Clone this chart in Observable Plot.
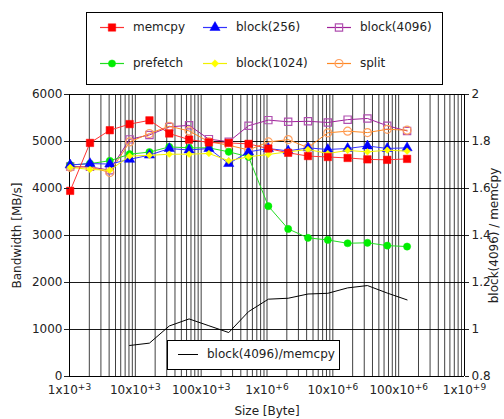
<!DOCTYPE html>
<html><head><meta charset="utf-8">
<script src="https://cdn.jsdelivr.net/npm/d3@7"></script>
<script src="https://cdn.jsdelivr.net/npm/@observablehq/plot@0.6"></script>
<style>body{margin:0;background:#fff}</style>
</head><body><div id="chart"></div>
<script>
// ---- data ----
const sizes = [1024, 2048, 4096, 8192, 16384, 32768, 65536, 131072, 262144, 524288,
  1048576, 2097152, 4194304, 8388608, 16777216, 33554432, 67108864, 134217728];
const memcpy    = [3950, 4970, 5240, 5370, 5450, 5170, 5040, 4980, 4970, 4950, 4850, 4760, 4690, 4670, 4650, 4620, 4610, 4630];
const block256  = [4500, 4530, 4520, 4620, 4710, 4850, 4820, 4850, 4530, 4780, 4850, 4800, 4865, 4830, 4852, 4905, 4852, 4865];
const block4096 = [4470, 4460, 4390, 5045, 5140, 5310, 5345, 5050, 4995, 5335, 5455, 5420, 5430, 5405, 5465, 5490, 5335, 5225];
const prefetch  = [4500, 4530, 4590, 4730, 4775, 4885, 4865, 4865, 4780, 4675, 3625, 3140, 2950, 2905, 2835, 2845, 2785, 2765];
const block1024 = [4450, 4405, 4390, 4690, 4705, 4730, 4730, 4745, 4590, 4675, 4725, 4780, 4830, 4745, 4810, 4780, 4815, 4795];
const split     = [4450, 4460, 4340, 4990, 5170, 5325, 5225, 4995, 4920, 4820, 4990, 5040, 4870, 5185, 5220, 5190, 5260, 5240];
const ratioSizes = [8192, 16384, 32768, 65536, 131072, 262144, 524288, 1048576, 2097152, 4194304, 8388608, 16777216, 33554432, 67108864, 134217728];
const ratio = [0.932, 0.942, 1.015, 1.045, 1.016, 0.987, 1.076, 1.129, 1.133, 1.151, 1.154, 1.177, 1.187, 1.155, 1.126];

const yTicks = [0, 1000, 2000, 3000, 4000, 5000, 6000];
const ratioTickLabels = ["0.8", "1", "1.2", "1.4", "1.6", "1.8", "2"];
const xMajor = [1e3, 1e4, 1e5, 1e6, 1e7, 1e8, 1e9];
const xTickLabels = ["1x10+3", "10x10+3", "100x10+3", "1x10+6", "10x10+6", "100x10+6", "1x10+9"];

// ---- styles ----
const series = [
  {name: "block(4096)", values: block4096, line: "#a0209a", mark: "#b050b0", symbol: "square", open: true, r: 4.1},
  {name: "split",       values: split,     line: "#ff8822", mark: "#ffa060", symbol: "circle", open: true, r: 4},
  {name: "prefetch",    values: prefetch,  line: "#22dd22", mark: "#00ee00", symbol: "circle", open: false, r: 3.6},
  {name: "block(256)",  values: block256,  line: "#3333ff", mark: "#0000ff", symbol: "triangle", open: false, r: 3.8},
  {name: "block(1024)", values: block1024, line: "#f0f000", mark: "#ffff00", symbol: "diamond2", open: false, r: 3},
  {name: "memcpy",      values: memcpy,    line: "#ff3333", mark: "#ff0000", symbol: "square", open: false, r: 4.2}
];

const minorX = [];
for (let e = 3; e <= 8; e++) for (let m = 1; m <= 9; m++) minorX.push(m * Math.pow(10, e));
minorX.push(1e9);

const ratioRows = ratio.map((r, i) => ({x: ratioSizes[i], y: (r - 0.8) * 5000}));

const marks = [
  Plot.gridX(minorX, {stroke: "#000", strokeOpacity: 0.75, strokeWidth: 1}),
  Plot.gridY(yTicks, {stroke: "#000", strokeOpacity: 0.9, strokeWidth: 1}),
  Plot.ruleX([1e3, 1e9], {stroke: "#000"}),
  Plot.ruleY([0, 6000], {stroke: "#000"}),
  Plot.line(ratioRows, {x: "x", y: "y", stroke: "#000", strokeWidth: 1})
];
for (const s of series) {
  const rows = s.values.map((v, i) => ({x: sizes[i], y: v}));
  marks.push(Plot.line(rows, {x: "x", y: "y", stroke: s.line, strokeWidth: 1}));
  marks.push(Plot.dot(rows, {x: "x", y: "y", symbol: () => s.symbol, r: s.r,
    fill: s.open ? "none" : s.mark, stroke: s.mark, strokeWidth: s.open ? 1.2 : 0.5}));
}
marks.push(
  Plot.axisY({anchor: "left", ticks: yTicks, tickSize: 5, tickPadding: 2, tickFormat: d => String(d),
    label: "Bandwidth [MB/s]", labelAnchor: "center", labelOffset: 57, labelArrow: "none"}),
  Plot.axisY({anchor: "right", ticks: yTicks, tickSize: 4, tickPadding: 3,
    tickFormat: d => ratioTickLabels[yTicks.indexOf(d)],
    label: "block(4096) / memcpy", labelAnchor: "center", labelOffset: 33, labelArrow: "none"}),
  Plot.axisX({ticks: xMajor, tickSize: 0, tickPadding: 9,
    tickFormat: d => xTickLabels[xMajor.findIndex(v => Math.abs(v - d) / v < 1e-6)],
    label: "Size [Byte]", labelAnchor: "center", labelOffset: 38, labelArrow: "none"})
);

const plot = Plot.plot({
  width: 504, height: 419,
  marginLeft: 69, marginRight: 40, marginTop: 94, marginBottom: 43,
  style: {fontFamily: "DejaVu Sans, sans-serif", fontSize: "12px", color: "#222", background: "#fff"},
  x: {type: "log", domain: [1e3, 1e9]},
  y: {domain: [0, 6000]},
  marks
});
document.getElementById("chart").appendChild(plot);

// superscript exponents on x tick labels
const svg = d3.select(plot);
svg.selectAll('g[aria-label="x-axis tick label"] text').each(function() {
  const t = d3.select(this);
  const s = t.text();
  const k = s.indexOf("+");
  if (k < 0) return;
  t.text(null);
  t.append("tspan").text(s.slice(0, k));
  t.append("tspan").attr("dy", "-0.45em").attr("font-size", "9px").text(s.slice(k));
});

// legends
function drawSymbol(g, s, x, y) {
  const size = s.r * s.r * Math.PI;
  const sym = {square: d3.symbolSquare, circle: d3.symbolCircle, triangle: d3.symbolTriangle, diamond2: d3.symbolSquare}[s.symbol];
  g.append("path").attr("d", d3.symbol(sym, size)())
    .attr("transform", `translate(${x},${y})` + (s.symbol === "diamond2" ? " rotate(45)" : ""))
    .attr("fill", s.open ? "none" : s.mark).attr("stroke", s.mark).attr("stroke-width", s.open ? 1.2 : 0.5);
}
const leg = svg.append("g").attr("font-family", "DejaVu Sans, sans-serif").attr("font-size", 12)
  .attr("fill", "#222").attr("text-anchor", "start");
leg.append("rect").attr("x", 86.5).attr("y", 12.5).attr("width", 356).attr("height", 72)
  .attr("fill", "#fff").attr("stroke", "#000");
const legendOrder = ["memcpy", "block(256)", "block(4096)", "prefetch", "block(1024)", "split"];
const colX = [100, 203, 327];
const rowY = [27, 63];
legendOrder.forEach((name, i) => {
  const s = series.find(d => d.name === name);
  const cx = colX[i % 3], cy = rowY[Math.floor(i / 3)];
  leg.append("line").attr("x1", cx).attr("x2", cx + 24).attr("y1", cy + 0.5).attr("y2", cy + 0.5)
    .attr("stroke", s.line).attr("stroke-width", 1.2);
  drawSymbol(leg, s, cx + 12, cy + 0.5);
  leg.append("text").attr("x", cx + 33).attr("y", cy).attr("dy", "0.35em").text(name);
});
const leg2 = svg.append("g").attr("font-family", "DejaVu Sans, sans-serif").attr("font-size", 12)
  .attr("fill", "#222").attr("text-anchor", "start");
leg2.append("rect").attr("x", 167.5).attr("y", 340.5).attr("width", 172).attr("height", 29)
  .attr("fill", "#fff").attr("stroke", "#000");
leg2.append("line").attr("x1", 178).attr("x2", 198).attr("y1", 354.5).attr("y2", 354.5).attr("stroke", "#000");
leg2.append("text").attr("x", 207).attr("y", 354).attr("dy", "0.35em").text("block(4096)/memcpy");
</script>
</body></html>
